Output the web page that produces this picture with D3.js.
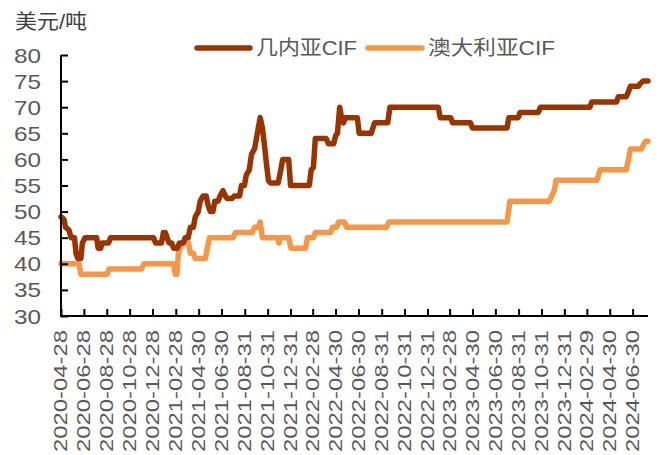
<!DOCTYPE html>
<html><head><meta charset="utf-8">
<script src="https://cdn.jsdelivr.net/npm/d3@7"></script>
<style>body{margin:0;background:#fff}svg{display:block}</style>
</head><body><svg id="c" width="661" height="455"></svg>
<script>
const seriesNames = ["几内亚CIF", "澳大利亚CIF"];
const seriesColors = ["#993300", "#F79646"];
const yTicks = [30, 35, 40, 45, 50, 55, 60, 65, 70, 75, 80];
const tickLabels = ["2020-04-28","2020-06-28","2020-08-28","2020-10-28","2020-12-28","2021-02-28","2021-04-30","2021-06-30","2021-08-31","2021-10-31","2021-12-31","2022-02-28","2022-04-30","2022-06-30","2022-08-31","2022-10-31","2022-12-31","2023-02-28","2023-04-30","2023-06-30","2023-08-31","2023-10-31","2023-12-31","2024-02-29","2024-04-30","2024-06-30"];
const domainDates = ["2020-04-28", "2024-08-10"];

const guineaDates = ["2020-04-28","2020-05-06","2020-05-10","2020-05-19","2020-05-25","2020-06-03","2020-06-07","2020-06-12","2020-06-20","2020-06-24","2020-07-01","2020-08-01","2020-08-05","2020-08-12","2020-08-15","2020-09-02","2020-09-07","2020-12-31","2021-01-05","2021-01-21","2021-01-26","2021-01-31","2021-02-10","2021-02-17","2021-02-22","2021-03-04","2021-03-10","2021-03-20","2021-03-25","2021-04-02","2021-04-08","2021-04-16","2021-04-21","2021-04-29","2021-05-04","2021-05-12","2021-05-20","2021-05-26","2021-05-31","2021-06-07","2021-06-12","2021-06-21","2021-06-26","2021-07-04","2021-07-10","2021-07-15","2021-07-28","2021-08-03","2021-08-17","2021-08-22","2021-08-30","2021-09-04","2021-09-12","2021-09-18","2021-09-26","2021-10-01","2021-10-06","2021-10-11","2021-10-17","2021-10-22","2021-10-28","2021-11-02","2021-11-07","2021-11-28","2021-12-05","2021-12-10","2021-12-26","2021-12-31","2022-02-19","2022-02-24","2022-03-02","2022-03-07","2022-04-05","2022-04-11","2022-04-25","2022-04-30","2022-05-05","2022-05-11","2022-05-16","2022-05-21","2022-05-26","2022-06-27","2022-07-02","2022-08-03","2022-08-12","2022-09-16","2022-09-22","2023-01-29","2023-02-03","2023-03-03","2023-03-08","2023-04-25","2023-04-30","2023-07-31","2023-08-05","2023-08-30","2023-09-04","2023-10-23","2023-10-28","2024-03-08","2024-03-13","2024-05-18","2024-05-23","2024-06-13","2024-06-19","2024-06-24","2024-07-15","2024-07-20","2024-07-28","2024-08-10"];
const guineaValues = [49,48.5,47,46.5,45,45,42,41,41,44,45,45,43,43,44,44,45,45,44,44,46,46,44,44,43,43,44,44,45,45,47,47,49,50,52,53,53,51,50,50,52,52,53,54,53,52.5,52.5,53,53,55,55,57,58,61,62,64,66,68,66,63,59,56,55.5,55.5,58,60,60,55,55,58,58.5,64,64,63,63,64.5,65,70,68,67,68,68,65,65,67,67,70,70,68,68,67,67,66,66,68,68,69,69,70,70,71,71,72,72,73,74,74,74.5,75,75];

const ausDates = ["2020-04-28","2020-06-15","2020-06-20","2020-08-29","2020-09-03","2020-11-29","2020-12-05","2021-02-22","2021-02-27","2021-03-03","2021-03-07","2021-03-12","2021-03-18","2021-04-03","2021-04-08","2021-04-16","2021-04-21","2021-05-18","2021-05-23","2021-05-29","2021-07-31","2021-08-06","2021-09-20","2021-09-26","2021-10-06","2021-10-11","2021-10-17","2021-11-26","2021-11-30","2021-12-04","2021-12-26","2022-01-01","2022-02-09","2022-02-14","2022-03-02","2022-03-07","2022-04-17","2022-04-22","2022-05-03","2022-05-08","2022-05-24","2022-05-29","2022-09-13","2022-09-19","2023-07-31","2023-08-08","2023-11-21","2023-11-27","2023-12-04","2023-12-09","2024-03-27","2024-04-04","2024-06-13","2024-06-19","2024-06-24","2024-07-24","2024-07-30","2024-08-04","2024-08-10"];
const ausValues = [40,40,38,38,39,39,40,40,38,38,42,43,44,44,42,42,41,41,43,45,45,46,46,47,47,48,45,45,44,45,45,43,43,45,45,46,46,47,47,48,48,47,47,48,48,52,52,53,54,56,56,58,58,60,62,62,63,63.5,63.5];

const parse = d3.utcParse("%Y-%m-%d");
const svg = d3.select("#c");
const pLeft = 61, pRight = 648, pTop = 55, pBottom = 316;
const x = d3.scaleUtc().domain(domainDates.map(parse)).range([pLeft, pRight]);
const y = d3.scaleLinear().domain([30, 80]).range([pBottom, pTop]);
const greyText = "#595959";
const font = "'Liberation Sans', Arial, 'Noto Sans CJK SC', sans-serif";

// lines
const line = d3.line().x(d => x(d[0])).y(d => y(d[1]));
const series = [
  guineaDates.map((d, i) => [parse(d), guineaValues[i]]),
  ausDates.map((d, i) => [parse(d), ausValues[i]])
];
[1, 0].forEach(k => {
  svg.append("path").datum(series[k]).attr("d", line)
    .attr("fill", "none").attr("stroke", seriesColors[k])
    .attr("stroke-width", 5.5).attr("stroke-linejoin", "round").attr("stroke-linecap", "round");
});

// y axis
const yAxis = svg.append("g").attr("transform", `translate(${pLeft},0)`)
  .call(d3.axisRight(y).tickValues(yTicks).tickSize(7).tickFormat(""));
yAxis.select(".domain").attr("stroke", "#000").attr("stroke-width", 2).attr("d", `M0,${pTop}V${pBottom}`);
yAxis.selectAll(".tick line").attr("stroke", "#000").attr("stroke-width", 2);
svg.append("g").selectAll("text").data(yTicks).join("text")
  .attr("x", 41).attr("y", d => y(d)).attr("dy", "0.36em")
  .attr("text-anchor", "end").attr("font-family", font).attr("font-size", 21)
  .attr("fill", greyText).attr("textLength", 27).attr("lengthAdjust", "spacingAndGlyphs")
  .text(d => d);

// x axis
const tickDates = tickLabels.map(parse);
const xAxis = svg.append("g").attr("transform", `translate(0,${pBottom})`)
  .call(d3.axisTop(x).tickValues(tickDates).tickSize(7).tickFormat(""));
xAxis.select(".domain").attr("stroke", "#000").attr("stroke-width", 2).attr("d", `M${pLeft - 1},0H${pRight}`);
xAxis.selectAll(".tick line").attr("stroke", "#000").attr("stroke-width", 2);
svg.append("g").selectAll("text").data(tickLabels).join("text")
  .attr("transform", d => `translate(${x(parse(d))},330) rotate(-90)`)
  .attr("dy", "0.36em").attr("text-anchor", "end")
  .attr("font-family", font).attr("font-size", 18).attr("fill", greyText)
  .attr("textLength", 122).attr("lengthAdjust", "spacingAndGlyphs")
  .text(d => d);

// title
svg.append("text").attr("x", 15).attr("y", 29).attr("font-family", font)
  .attr("font-size", 20).attr("fill", "#404040")
  .attr("textLength", 72).attr("lengthAdjust", "spacingAndGlyphs").text("美元/吨");

// legend
const legend = [
  {x1: 197, x2: 250, tx: 256, tl: 101},
  {x1: 368, x2: 422, tx: 428, tl: 127}
];
legend.forEach((l, i) => {
  svg.append("line").attr("x1", l.x1).attr("x2", l.x2).attr("y1", 48).attr("y2", 48)
    .attr("stroke", seriesColors[i]).attr("stroke-width", 5.5).attr("stroke-linecap", "round");
  svg.append("text").attr("x", l.tx).attr("y", 48).attr("dy", "0.36em")
    .attr("font-family", font).attr("font-size", 20).attr("fill", greyText)
    .attr("textLength", l.tl).attr("lengthAdjust", "spacingAndGlyphs").text(seriesNames[i]);
});
</script>
</body></html>
